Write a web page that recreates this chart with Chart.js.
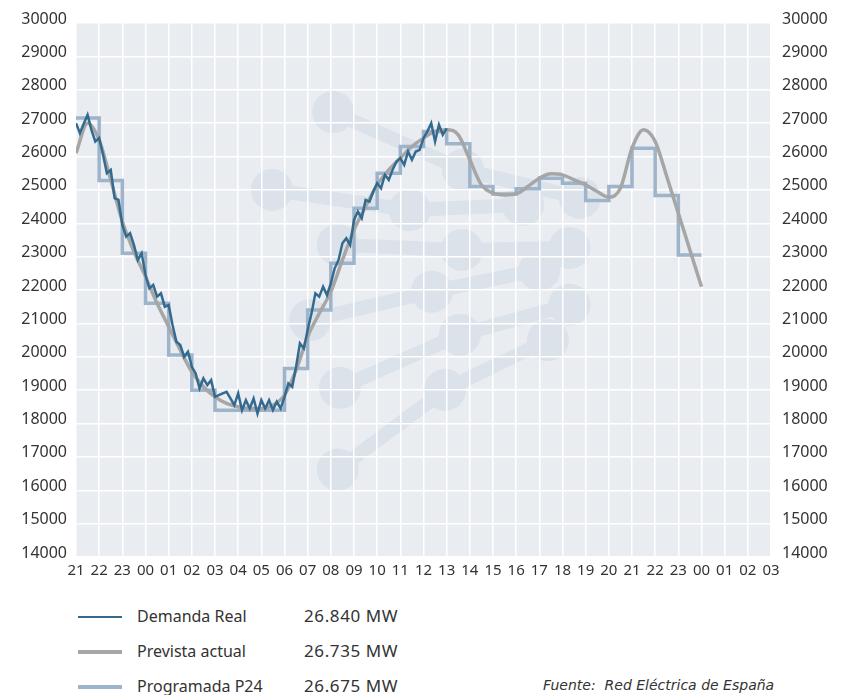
<!DOCTYPE html>
<html>
<head>
<meta charset="utf-8">
<script src="https://cdn.jsdelivr.net/npm/chart.js@4.4.0/dist/chart.umd.min.js"></script>
<style>
  body { margin: 0; background: #fff; font-family: "Noto Sans", sans-serif; color: #333; }
  #wrap { position: relative; width: 853px; height: 695px; overflow: hidden; }
  #chartBox { position: absolute; left: 0; top: 0; width: 853px; height: 600px; }
  .key { position: absolute; left: 78px; width: 44px; }
  .label { position: absolute; left: 137px; font-size: 16px; line-height: 20px; }
  .value { position: absolute; left: 304px; font-size: 17px; line-height: 20px; letter-spacing: 0.6px; }
  .source { position: absolute; left: 543px; top: 675px; font-family: "DejaVu Sans", sans-serif; font-size: 14px; font-style: italic; line-height: 20px; }
</style>
</head>
<body>
<div id="wrap">
  <div id="chartBox"><canvas id="demandChart"></canvas></div>

  <div class="key" style="top:616px; height:2px; background:#336a8f;"></div>
  <div class="label" style="top:606px;">Demanda Real</div>
  <div class="value" style="top:606px;">26.840 MW</div>

  <div class="key" style="top:650px; height:4px; background:#a6a6a6;"></div>
  <div class="label" style="top:641px;">Prevista actual</div>
  <div class="value" style="top:641px;">26.735 MW</div>

  <div class="key" style="top:685px; height:4px; background:#9db4cb;"></div>
  <div class="label" style="top:676px;">Programada P24</div>
  <div class="value" style="top:676px;">26.675 MW</div>

  <div class="source">Fuente:&nbsp; Red Eléctrica de España</div>
</div>

<script>
// Hour labels, 21h of the first day to 03h two days later
const hourLabels = ['21', '22', '23', '00', '01', '02', '03', '04', '05', '06', '07', '08', '09', '10',
  '11', '12', '13', '14', '15', '16', '17', '18', '19', '20', '21', '22', '23', '00', '01', '02', '03'];

// Demanda real, one value every 10 minutes (MW)
const demandaReal = [
  27000, 26700, 26980, 27250, 26800, 26450,
  26550, 26050, 25500, 25600, 24750, 24700,
  23950, 23600, 23700, 23350, 22900, 23100,
  22450, 22050, 22150, 21800, 21900, 21500,
  21550, 20950, 20450, 20350, 20000, 20150,
  19700, 19500, 19050, 19350, 19150, 19300,
  18800, 18850, 18900, 18950, 18750, 18550,
  18900, 18400, 18700, 18450, 18750, 18300,
  18700, 18450, 18700, 18400, 18650, 18450,
  18800, 19200, 19100, 19700, 20400, 20250,
  20800, 21300, 21900, 21800, 22100, 21850,
  22200, 22650, 22900, 23400, 23550, 23350,
  24100, 24350, 24150, 24700, 24650, 24950,
  25200, 25050, 25450, 25300, 25600, 25850,
  25950, 25750, 26150, 25900, 26150, 26200,
  26550, 26750, 27000, 26450, 26950, 26650,
  26840
];

// Prevista actual, one value every 30 minutes (MW)
const previstaActual = [
  26100, 27000, 26500, 25300, 24050, 23150, 22400, 21600, 20900, 20200,
  19550, 19100, 18800, 18600, 18500, 18450, 18450, 18550, 18850, 19600,
  20600, 21300, 21950, 22900, 23800, 24500, 25150, 25600, 25950, 26300,
  26550, 26750, 26800, 26650, 25900, 25150, 24900, 24850, 24880, 25100,
  25350, 25480, 25450, 25300, 25150, 24950, 24780, 25050, 26250, 26800,
  26450, 25400, 24300, 23200, 22100
];

// Programada P24, hourly blocks (MW); last value closes the final block
const programadaP24 = [
  27150, 25280, 23100, 21600, 20050, 19000, 18400, 18400, 18400, 19650,
  21400, 22800, 24450, 25500, 26300, 26750, 26380, 25100, 24880, 25030,
  25350, 25200, 24680, 25100, 26250, 24830, 23050, 23050
];

// Background logo watermark (hours, MW) and the chains joining its dots
const logoDots = [
  [11.1, 27330], [16.7, 25600], [8.46, 25000], [14.4, 24400], [19.3, 24550],
  [21.75, 24760], [11.3, 23350], [16.66, 23200], [21.3, 23260], [20.0, 22600],
  [15.36, 21950], [10.1, 21100], [16.57, 20660], [21.3, 21560], [20.37, 20500],
  [11.39, 19070], [15.93, 19010], [11.3, 16620]
];
const logoChains = [[0, 1, 5], [2, 3, 4], [6, 7, 8], [11, 10, 9], [15, 12, 13], [17, 16, 14]];

const plotBackground = {
  id: 'plotBackground',
  beforeDraw(chart) {
    const { ctx, chartArea: a, scales: { x, y } } = chart;
    ctx.save();
    ctx.fillStyle = '#e9ecf1';
    ctx.fillRect(a.left, a.top, a.width, a.height);
    ctx.beginPath();
    ctx.rect(a.left, a.top, a.width, a.height);
    ctx.clip();
    ctx.strokeStyle = '#dce2ea';
    ctx.fillStyle = '#dce2ea';
    ctx.lineWidth = 14;
    ctx.lineCap = 'round';
    logoChains.forEach(chain => {
      ctx.beginPath();
      chain.forEach((i, j) => {
        const px = x.getPixelForValue(logoDots[i][0]);
        const py = y.getPixelForValue(logoDots[i][1]);
        if (j) ctx.lineTo(px, py); else ctx.moveTo(px, py);
      });
      ctx.stroke();
    });
    logoDots.forEach(p => {
      ctx.beginPath();
      ctx.arc(x.getPixelForValue(p[0]), y.getPixelForValue(p[1]), 21, 0, Math.PI * 2);
      ctx.fill();
    });
    ctx.restore();
  }
};

const xFont = { family: '"Noto Sans", sans-serif', size: 15 };
const yFont = { family: '"Noto Sans", sans-serif', size: 16 };

const ctx = document.getElementById('demandChart').getContext('2d');
const demandChart = new Chart(ctx, {
  type: 'line',
  data: {
    datasets: [
      {
        label: 'Demanda Real',
        data: demandaReal.map((v, i) => ({ x: i / 6, y: v })),
        borderColor: '#336a8f',
        borderWidth: 2.5,
        borderJoinStyle: 'miter',
        pointRadius: 0,
        tension: 0,
        order: 1
      },
      {
        label: 'Prevista actual',
        data: previstaActual.map((v, i) => ({ x: i / 2, y: v })),
        borderColor: '#a6a6a6',
        borderWidth: 3.5,
        pointRadius: 0,
        cubicInterpolationMode: 'monotone',
        order: 2
      },
      {
        label: 'Programada P24',
        data: programadaP24.map((v, i) => ({ x: i, y: v })),
        borderColor: '#9db4cb',
        borderWidth: 3.5,
        pointRadius: 0,
        stepped: 'before',
        order: 3
      }
    ]
  },
  options: {
    responsive: true,
    maintainAspectRatio: false,
    animation: false,
    layout: { padding: { top: 23, left: 0, right: 0, bottom: 0 } },
    plugins: {
      legend: { display: false },
      tooltip: { enabled: false }
    },
    scales: {
      x: {
        type: 'linear',
        min: 0,
        max: 30,
        grid: { color: '#ffffff', lineWidth: 1.5, drawTicks: false },
        border: { display: false },
        ticks: {
          stepSize: 1,
          autoSkip: false,
          maxRotation: 0,
          padding: 5,
          color: '#333',
          font: xFont,
          callback: v => hourLabels[v]
        },
        afterFit(scale) { scale.height = 43; }
      },
      y: {
        position: 'left',
        min: 14000,
        max: 30000,
        grid: { color: '#ffffff', lineWidth: 1.5, drawTicks: false },
        border: { display: false },
        ticks: { stepSize: 1000, padding: 9, labelOffset: -4, color: '#333', font: yFont, callback: v => String(v) },
        afterFit(scale) { scale.width = 76; }
      },
      y2: {
        position: 'right',
        min: 14000,
        max: 30000,
        grid: { display: false, drawTicks: false },
        border: { display: false },
        ticks: { stepSize: 1000, padding: 11, labelOffset: -4, color: '#333', font: yFont, callback: v => String(v) },
        afterFit(scale) { scale.width = 82; }
      }
    }
  },
  plugins: [plotBackground]
});
</script>
</body>
</html>
